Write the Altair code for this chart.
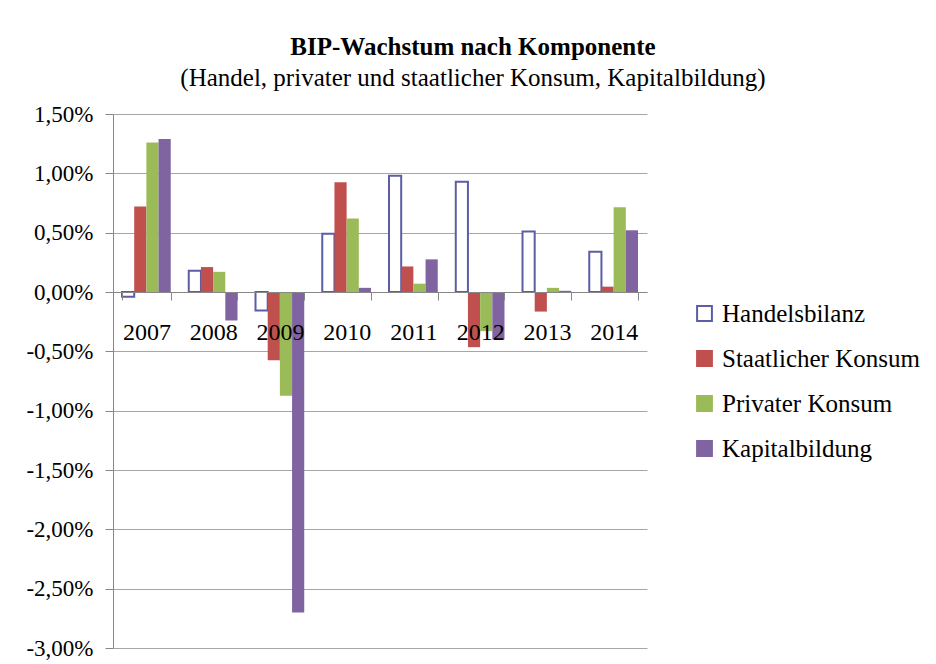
import altair as alt
import pandas as pd

years = ["2007", "2008", "2009", "2010", "2011", "2012", "2013", "2014"]
components = ["Handelsbilanz", "Staatlicher Konsum", "Privater Konsum", "Kapitalbildung"]
handelsbilanz = [-0.04, 0.18, -0.155, 0.49, 0.98, 0.93, 0.51, 0.34]
staatlicher_konsum = [0.72, 0.21, -0.575, 0.925, 0.215, -0.465, -0.165, 0.045]
privater_konsum = [1.26, 0.17, -0.875, 0.62, 0.07, -0.33, 0.035, 0.715]
kapitalbildung = [1.29, -0.24, -2.70, 0.035, 0.275, -0.40, 0.01, 0.52]
y_ticks = [1.5, 1.0, 0.5, 0.0, -0.5, -1.0, -1.5, -2.0, -2.5, -3.0]

series = [handelsbilanz, staatlicher_konsum, privater_konsum, kapitalbildung]
rows = []
for comp, vals in zip(components, series):
    for yr, v in zip(years, vals):
        rows.append({"Jahr": yr, "Komponente": comp, "Wert": v})
df = pd.DataFrame(rows)

FONT = "Liberation Serif"
fill_range = ["white", "#C0504D", "#9BBB59", "#8064A2"]
stroke_range = ["#5B5EA6", "#C0504D", "#9BBB59", "#8064A2"]

W, H = 534, 534
zero_px = H * 1.5 / 4.5

chart = alt.Chart(df).mark_bar().encode(
    x=alt.X("Jahr:N", sort=years, title=None,
            scale=alt.Scale(paddingInner=0.27, paddingOuter=0.135),
            axis=alt.Axis(orient="bottom", offset=-(H - zero_px), labelAngle=0,
                          tickBand="extent", tickSize=8, tickColor="#868686",
                          domainColor="#868686", labelFont=FONT, labelFontSize=24,
                          labelColor="black", labelPadding=20, zindex=1)),
    xOffset=alt.XOffset("Komponente:N", sort=components),
    y=alt.Y("Wert:Q", title=None,
            scale=alt.Scale(domain=[-3, 1.5], nice=False, zero=False),
            axis=alt.Axis(values=y_ticks, tickSize=8, tickColor="#868686",
                          domainColor="#868686", gridColor="#A6A6A6",
                          labelFont=FONT, labelFontSize=23, labelColor="black",
                          labelPadding=12,
                          labelExpr="replace(replace(format(datum.value, '.2f'), '.', ','), '\u2212', '-') + '%'")),
    fill=alt.Fill("Komponente:N", sort=components,
                  scale=alt.Scale(domain=components, range=fill_range),
                  legend=alt.Legend(title=None, orient="none", legendX=579, legendY=187,
                                    symbolType="square", symbolSize=220,
                                    symbolStrokeWidth=2, labelFont=FONT,
                                    labelFontSize=25, labelColor="black", labelLimit=400,
                                    rowPadding=19, labelOffset=5)),
    stroke=alt.Stroke("Komponente:N", sort=components,
                      scale=alt.Scale(domain=components, range=stroke_range),
                      legend=None),
    strokeWidth=alt.condition(alt.datum.Komponente == "Handelsbilanz",
                              alt.value(2), alt.value(0)),
).properties(
    width=W, height=H,
    title=alt.TitleParams(
        text="BIP-Wachstum nach Komponente",
        subtitle="(Handel, privater und staatlicher Konsum, Kapitalbildung)",
        font=FONT, fontSize=25, fontWeight="bold", color="black",
        subtitleFont=FONT, subtitleFontSize=25, subtitleColor="black",
        subtitlePadding=6, anchor="middle", frame="bounds", offset=12),
    padding={"left": 17, "top": 27, "right": 0, "bottom": 0},
).configure(background="white").configure_view(stroke=None)

chart.save("out.html", embed_options={"renderer": "svg", "actions": False})
